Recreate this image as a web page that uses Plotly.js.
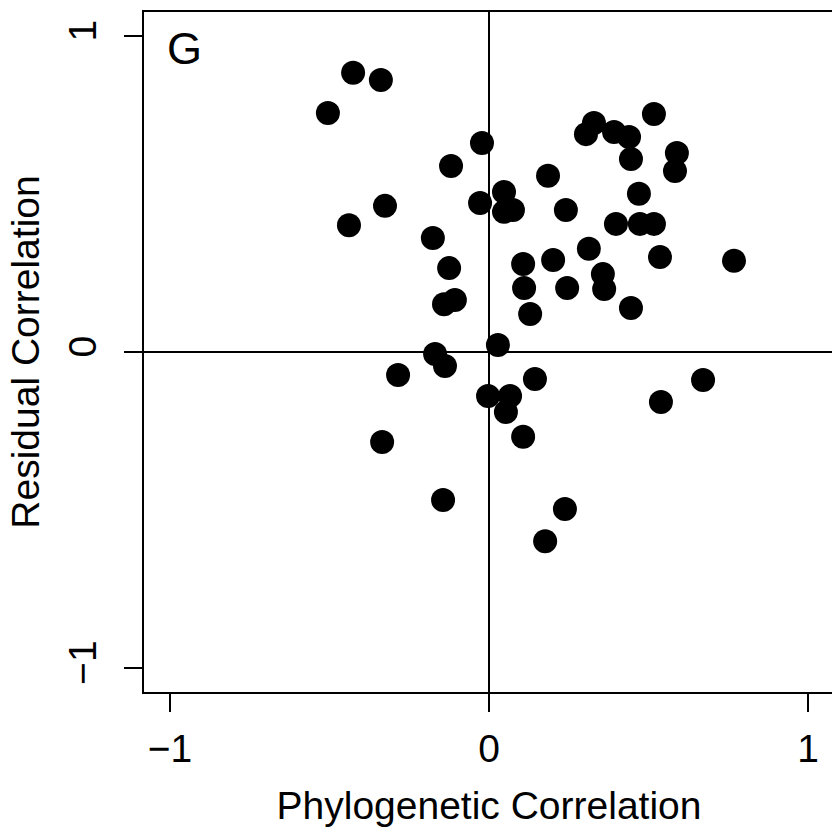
<!DOCTYPE html>
<html>
<head>
<meta charset="utf-8">
<script src="https://cdn.plot.ly/plotly-3.0.1.min.js"></script>
<style>
html, body { margin: 0; padding: 0; overflow: hidden; background: #fff; }
#chart { width: 834px; height: 827px; }
</style>
</head>
<body>
<div id="chart"></div>
<script>
// Phylogenetic correlation (x) vs residual correlation (y)
const phyloCorr = [
  -0.426, -0.339, -0.505, -0.326, -0.439, -0.176, -0.119, -0.022, -0.028, -0.125,
  -0.141, -0.107, -0.169, -0.138, -0.285, -0.335, -0.144, 0.028, -0.003, 0.066,
  0.053, 0.144, 0.107, 0.238, 0.176, 0.671, 0.539, 0.517, 0.329, 0.304,
  0.392, 0.439, 0.589, 0.445, 0.583, 0.185, 0.047, 0.047, 0.075, 0.241,
  0.470, 0.398, 0.473, 0.517, 0.313, 0.536, 0.768, 0.107, 0.201, 0.357,
  0.361, 0.110, 0.245, 0.445, 0.129
];
const residCorr = [
  0.885, 0.862, 0.758, 0.464, 0.403, 0.362, 0.590, 0.663, 0.473, 0.267,
  0.153, 0.166, -0.005, -0.043, -0.071, -0.283, -0.467, 0.024, -0.138, -0.138,
  -0.188, -0.084, -0.267, -0.495, -0.597, -0.087, -0.157, 0.755, 0.726, 0.691,
  0.698, 0.682, 0.631, 0.612, 0.574, 0.559, 0.508, 0.445, 0.451, 0.451,
  0.502, 0.407, 0.407, 0.407, 0.328, 0.302, 0.290, 0.280, 0.293, 0.248,
  0.201, 0.204, 0.204, 0.141, 0.122
];
const tickVals = [-1, 0, 1];
const tickText = ['\u22121', '0', '1'];
const panelLabel = 'G';
const xTitle = 'Phylogenetic Correlation';
const yTitle = 'Residual Correlation';

const FONT = 'Liberation Sans, Arial, Helvetica, sans-serif';

const trace = {
  x: phyloCorr,
  y: residCorr,
  type: 'scatter',
  mode: 'markers',
  marker: { color: '#000000', size: 24, line: { width: 0 } },
  hoverinfo: 'x+y',
  showlegend: false
};

const axisCommon = {
  showgrid: false,
  zeroline: true,
  zerolinecolor: '#000000',
  zerolinewidth: 2,
  showline: true,
  mirror: true,
  linecolor: '#000000',
  linewidth: 2,
  ticks: 'outside',
  ticklen: 18,
  tickwidth: 2,
  tickcolor: '#000000',
  tickmode: 'array',
  tickvals: tickVals,
  ticktext: tickText,
  tickfont: { family: FONT, size: 39, color: '#000000' },
  automargin: false,
  fixedrange: true
};

const layout = {
  width: 834,
  height: 827,
  margin: { l: 144, r: 0, t: 12, b: 135 },
  paper_bgcolor: '#ffffff',
  plot_bgcolor: '#ffffff',
  font: { family: FONT, color: '#000000' },
  xaxis: Object.assign({}, axisCommon, {
    range: [-1.0815, 1.0815],
    ticklabelstandoff: 3,
    title: { text: xTitle, font: { family: FONT, size: 39, color: '#000000' }, standoff: 25 }
  }),
  yaxis: Object.assign({}, axisCommon, {
    range: [-1.0744, 1.0775],
    tickangle: -90,
    ticklabelstandoff: 12,
    title: { text: yTitle, font: { family: FONT, size: 39, color: '#000000' }, standoff: 10 }
  }),
  annotations: [{
    text: panelLabel,
    xref: 'paper', yref: 'paper',
    x: 0.0594, y: 0.9456,
    xanchor: 'center', yanchor: 'middle',
    showarrow: false,
    font: { family: FONT, size: 45, color: '#000000' }
  }]
};

Plotly.newPlot('chart', [trace], layout, { displayModeBar: false, staticPlot: true });
</script>
</body>
</html>
